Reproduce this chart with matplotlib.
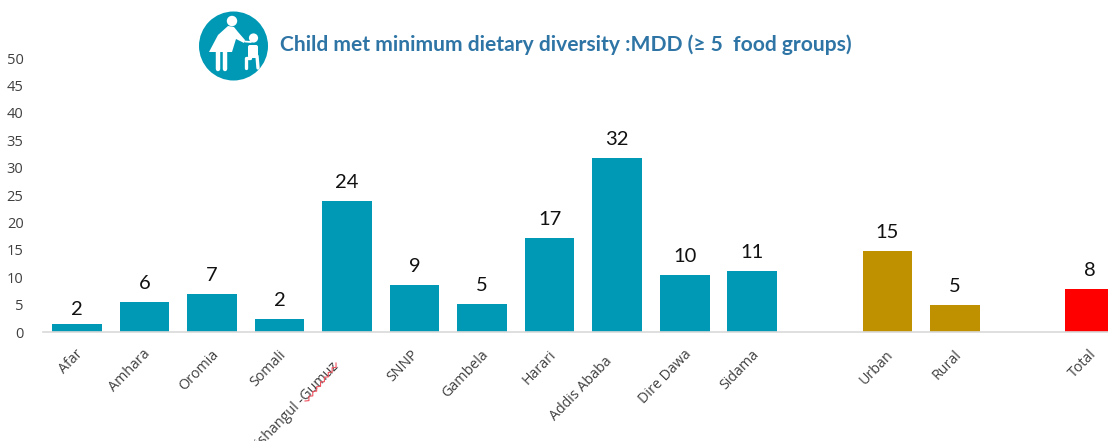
import matplotlib
matplotlib.use("Agg")
import matplotlib.pyplot as plt
from matplotlib.patches import Circle, Polygon, FancyBboxPatch

W, H = 1108, 441
categories = ["Afar", "Amhara", "Oromia", "Somali", "Benishangul -Gumuz", "SNNP", "Gambela",
              "Harari", "Addis Ababa", "Dire Dawa", "Sidama", "Urban", "Rural", "Total"]
positions = [0, 1, 2, 3, 4, 5, 6, 7, 8, 9, 10, 12, 13, 15]
values = [1.5, 5.5, 6.9, 2.4, 23.9, 8.6, 5.2, 17.1, 31.8, 10.4, 11.1, 14.8, 4.9, 7.8]
labels = ["2", "6", "7", "2", "24", "9", "5", "17", "32", "10", "11", "15", "5", "8"]
colors = ["#0099B5"] * 11 + ["#BF9000"] * 2 + ["#FF0000"]
yticks = [0, 5, 10, 15, 20, 25, 30, 35, 40, 45, 50]
title = "Child met minimum dietary diversity :MDD (≥ 5  food groups)"

plt.rcParams["font.family"] = ["Open Sans", "DejaVu Sans"]
fig = plt.figure(figsize=(W / 100, H / 100), dpi=100)
ax = fig.add_axes([43 / W, 1 - 332 / H, (W - 43) / W, (332 - 58) / H])
ax.bar(positions, values, width=0.735, color=colors, linewidth=0)
ax.set_xlim(-0.5, (W - 77) / 67.54)
ax.set_ylim(0, 50)
for s in ["top", "right", "left"]:
    ax.spines[s].set_visible(False)
ax.spines["bottom"].set_color("#D9D9D9")
ax.spines["bottom"].set_linewidth(1.2)
ax.set_yticks(yticks)
ax.tick_params(axis="y", length=0, labelsize=10.5, labelcolor="#404040", pad=14)
ax.set_xticks(positions)
ax.set_xticklabels([])
ax.tick_params(axis="x", length=0)

for i, (p, v, l) in enumerate(zip(positions, values, labels)):
    lift = 4.5 if i == 0 else 7.2
    ax.annotate(l, (p, v), xytext=(0, lift), textcoords="offset points", ha="center", va="bottom",
                fontsize=14.5, color="#111111", family=["Lato", "DejaVu Sans"])

label_nudge = {"Benishangul -Gumuz": (-10.8, -8.6), "Addis Ababa": (-8.6, -5), "SNNP": (-2, 0)}
for p, c in zip(positions, categories):
    dx, dy = label_nudge.get(c, (0, 0))
    ax.annotate(c, (p, 0), xytext=(-0.9 + dx, -10.8 + dy), textcoords="offset points", ha="right", va="top",
                rotation=46, rotation_mode="anchor", fontsize=10.3, color="#404040",
                annotation_clip=False)

# pixel-space overlay
ov = fig.add_axes([0, 0, 1, 1], facecolor="none")
ov.set_xlim(0, W)
ov.set_ylim(H, 0)
ov.axis("off")
ov.text(280, 44.5, title, fontsize=15.1, fontweight="bold", color="#2E75A6", va="center", ha="left",
        family=["Lato", "DejaVu Sans"])

# spell-check squiggle under "-Gumuz"
sq_x, sq_y = [], []
for i in range(17):
    t = i / 16
    off = 1.0 if i % 2 else -1.0
    sq_x.append(306 + 31 * t + off)
    sq_y.append(402 - 38 * t + off)
ov.plot(sq_x, sq_y, color="#F0525F", lw=0.8)

# feeding icon
white = "white"
ov.add_patch(Circle((233.5, 46), 34.5, color="#0099B5", lw=0))
ov.add_patch(Circle((232, 21), 5.2, color=white, lw=0))
ov.add_patch(Polygon([(228, 26), (234, 27), (238, 32), (245, 40), (244, 43), (236, 39), (232, 52),
                      (209, 52), (218, 35)], closed=True, color=white, lw=0))
ov.plot([245, 251], [41.5, 42], color=white, lw=1.3, solid_capstyle="round")
ov.plot([218, 218], [52, 69], color=white, lw=3.2, solid_capstyle="round")
ov.plot([225, 225], [52, 69], color=white, lw=3.2, solid_capstyle="round")
ov.add_patch(Circle((253.5, 38), 4.6, color=white, lw=0))
ov.add_patch(FancyBboxPatch((249, 46), 8, 11, boxstyle="round,pad=1,rounding_size=2", color=white, lw=0))
ov.plot([250, 246, 246], [58, 58, 68], color=white, lw=2.4, solid_capstyle="round", solid_joinstyle="round")
ov.plot([257, 258], [56, 68], color=white, lw=2.4, solid_capstyle="round")

fig.savefig("out.png", dpi=100)
